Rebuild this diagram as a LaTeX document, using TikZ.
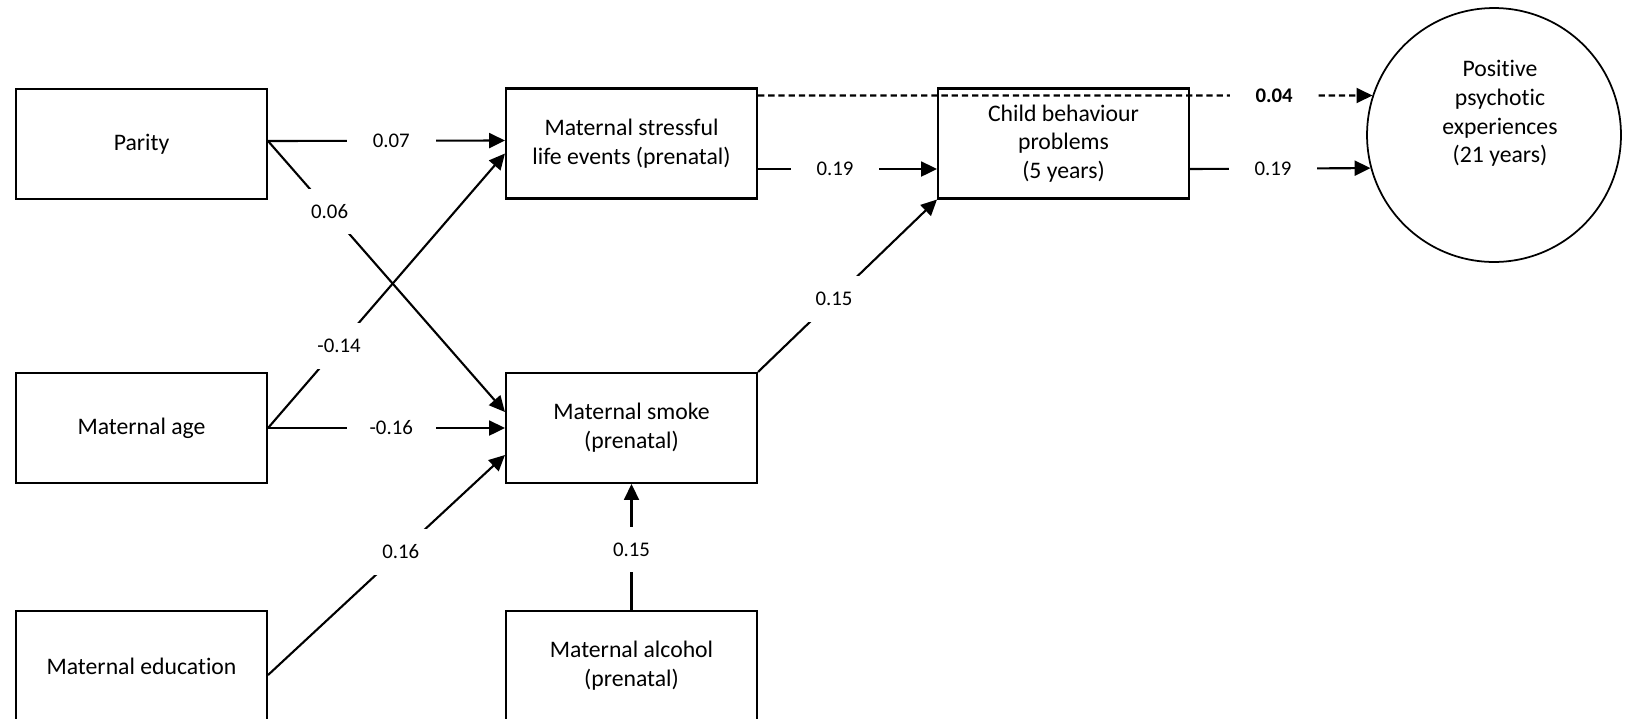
\documentclass[tikz,border=0pt]{standalone}
\usepackage{fontspec}
\setmainfont{Carlito}[Ligatures=CommonOff]
\usetikzlibrary{arrows.meta,calc}

\tikzset{
  var/.style={draw, line width=1.2pt, minimum width=5.02cm, minimum height=2.2cm,
    align=center, font=\fontsize{13.5}{16.4}\selectfont},
  coef/.style={fill=white, inner sep=0pt, minimum width=50.5pt, minimum height=26pt,
    font=\fontsize{11.85}{14}\selectfont},
  arr/.style={line width=1.2pt, -{Triangle[length=9pt,width=8.5pt]}},
}

\begin{document}
\begin{tikzpicture}[x=0.02cm, y=-0.02cm]
  \useasboundingbox (0,0) rectangle (1626,718);
  % Define nodes
  \node[var] (parity)  at (141.5,144) {Parity};
  \node[var] (age)     at (141.5,428) {Maternal age};
  \node[var] (edu)     at (141.5,666) {Maternal education};
  \node[var] (stress)  at (631.5,143.5) {Maternal stressful\\life events (prenatal)};
  \node[var] (smoke)   at (631.5,428) {Maternal smoke\\(prenatal)};
  \node[var] (alcohol) at (631.5,666) {Maternal alcohol\\(prenatal)};
  \node[var] (child)   at (1063.5,143.5) {Child behaviour\\problems\\(5 years)};
  \node[draw, circle, line width=1pt, minimum size=5.08cm, inner sep=0pt] (ppe) at (1494,135) {};
  \node[align=center, font=\fontsize{13.5}{16.4}\selectfont] (ppetxt) at (1500,113.5)
    {Positive\\psychotic\\experiences\\(21 years)};
  % Connect nodes
  \draw[arr] ($(parity.east)+(0,-3)$) -- node[coef, pos=0.52] {0.07} ($(stress.west)+(0,-3)$);
  \draw[arr] ($(parity.east)+(0,-3)$) -- node[coef, pos=0.26] {0.06} ($(smoke.west)+(0,-16)$);
  \draw[arr] (age.east) -- node[coef, pos=0.30] {-0.14} ($(stress.west)+(0,10)$);
  \draw[arr] (age.east) -- node[coef, pos=0.52] {-0.16} (smoke.west);
  \draw[arr] ($(edu.east)+(0,9)$) -- node[coef, pos=0.56] {0.16} ($(smoke.west)+(0,27)$);
  \draw[arr] (alcohol.north) -- node[coef, pos=0.48] {0.15} (smoke.south);
  \draw[arr] (smoke.north east) -- node[coef, pos=0.425] {0.15} (child.south west);
  \draw[arr] ($(stress.east)+(0,25.5)$) -- node[coef, pos=0.43] {0.19} ($(child.west)+(0,25.5)$);
  \draw[arr] ($(child.east)+(0,25.5)$) -- node[coef, pos=0.46] {0.19} (ppe.195.5);
  \draw[arr, dash pattern=on 3.6pt off 2.2pt] ($(stress.north east)+(0,8)$)
    -- node[coef, pos=0.84] {\textbf{0.04}} (ppe.162.6);
\end{tikzpicture}
\end{document}
